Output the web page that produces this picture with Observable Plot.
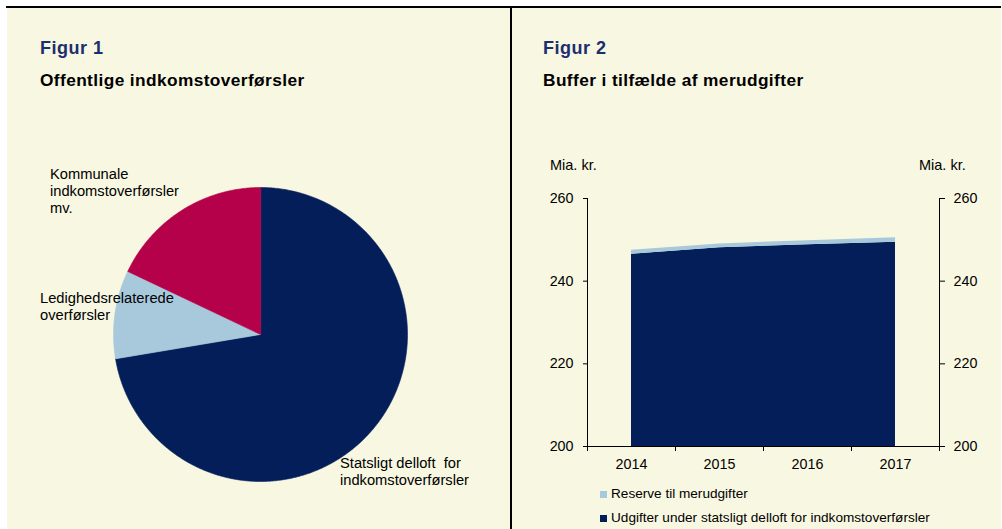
<!DOCTYPE html>
<html>
<head>
<meta charset="utf-8">
<script src="https://cdn.jsdelivr.net/npm/d3@7"></script>
<script src="https://cdn.jsdelivr.net/npm/@observablehq/plot@0.6"></script>
<style>
  html, body { margin: 0; padding: 0; background: #ffffff; }
  #page { position: relative; width: 1002px; height: 529px; overflow: hidden; font-family: "Liberation Sans", Arial, sans-serif; color: #000; }
  .abs { position: absolute; }
  .bg { left: 7px; top: 7px; width: 994px; height: 522px; background: #f8f7e1; }
  .topline { left: 6px; top: 6px; width: 995px; height: 2px; background: #000; }
  .divider { left: 510px; top: 7px; width: 2px; height: 522px; background: #000; }
  .fig { font-weight: bold; font-size: 18px; color: #1b2f6e; letter-spacing: 0.5px; white-space: nowrap; line-height: 20px; }
  .sub { font-weight: bold; font-size: 17.3px; letter-spacing: 0.4px; white-space: nowrap; line-height: 20px; }
  .plab { font-size: 14.7px; line-height: 17px; white-space: pre; }
  .unit { font-size: 14.5px; line-height: 17px; white-space: nowrap; }
  .leg { font-size: 13.6px; line-height: 16px; white-space: nowrap; }
  .sw { display: inline-block; width: 7px; height: 7px; margin-right: 4px; }
  svg { background: transparent !important; }
</style>
</head>
<body>
<div id="page">
  <div class="abs bg"></div>
  <div class="abs topline"></div>
  <div class="abs divider"></div>
  <div class="abs fig" style="left:40px; top:38px;">Figur 1</div>
  <div class="abs sub" style="left:40px; top:70px;">Offentlige indkomstoverførsler</div>
  <div class="abs fig" style="left:543px; top:38px;">Figur 2</div>
  <div class="abs sub" style="left:543px; top:70px;">Buffer i tilfælde af merudgifter</div>
  <div id="pie" class="abs" style="left:0px; top:0px;"></div>
  <div id="area" class="abs" style="left:530px; top:180px;"></div>
  <div id="pielabels"></div>
  <div class="abs unit" style="left:550px; top:157px;">Mia. kr.</div>
  <div class="abs unit" style="left:919px; top:157px;">Mia. kr.</div>
  <div id="legend"></div>
</div>
<script>
// ---- Figure 1 data ----
const pieNames = ["Statsligt delloft for indkomstoverførsler", "Ledighedsrelaterede overførsler", "Kommunale indkomstoverførsler mv."];
const pieValues = [246, 33, 61];
const pieColors = ["#041e5a", "#a8c9dc", "#b5004a"];
const pieLabelText = ["Statsligt delloft  for\nindkomstoverførsler", "Ledighedsrelaterede\noverførsler", "Kommunale\nindkomstoverførsler\nmv."];

// ---- Figure 2 data ----
const years = [2014, 2015, 2016, 2017];
const seriesNames = ["Udgifter under statsligt delloft for indkomstoverførsler", "Reserve til merudgifter"];
const udgifter = [246.5, 248.1, 248.8, 249.4];
const reserve = [1.0, 0.9, 1.0, 1.1];
const seriesColors = ["#041e5a", "#a8c9dc"];
const yTicks = [200, 220, 240, 260];

// ---- Pie via Plot ----
const pieData = pieNames.map((name, i) => ({name, value: pieValues[i]}));
const arcs = d3.pie().sort(null).value(d => d.value)(pieData);
const polyPts = [];
arcs.forEach(a => {
  polyPts.push({name: a.data.name, x: 0, y: 0});
  const n = Math.max(8, Math.ceil((a.endAngle - a.startAngle) / 0.01));
  for (let k = 0; k <= n; k++) {
    const t = a.startAngle + (a.endAngle - a.startAngle) * k / n;
    polyPts.push({name: a.data.name, x: Math.sin(t), y: Math.cos(t)});
  }
});
const pie = Plot.plot({
  width: 510, height: 529,
  marginLeft: 113, marginRight: 103, marginTop: 187, marginBottom: 48,
  x: {domain: [-1, 1], axis: null},
  y: {domain: [-1, 1], axis: null},
  color: {domain: pieNames, range: pieColors},
  style: {background: "transparent"},
  marks: [
    Plot.line(polyPts, {x: "x", y: "y", z: "name", fill: "name", stroke: "name", strokeWidth: 0.6, curve: "linear-closed"})
  ]
});
document.getElementById("pie").appendChild(pie);

// pie labels (annotations)
const pieLabelPos = [{left: 340, top: 455}, {left: 40, top: 290}, {left: 50, top: 166}];
const pl = document.getElementById("pielabels");
pieLabelText.forEach((t, i) => {
  const d = document.createElement("div");
  d.className = "abs plab";
  d.style.left = pieLabelPos[i].left + "px";
  d.style.top = pieLabelPos[i].top + "px";
  d.textContent = t;
  pl.appendChild(d);
});

// ---- Area via Plot ----
const long = [];
years.forEach((yr, i) => {
  long.push({year: yr, series: seriesNames[0], value: udgifter[i]});
  long.push({year: yr, series: seriesNames[1], value: reserve[i]});
});
const bounds = years.map(y => y - 0.5).concat([years[years.length - 1] + 0.5]);
const xDom = [bounds[0], bounds[bounds.length - 1]];
const area = Plot.plot({
  width: 472, height: 300,
  marginLeft: 57, marginRight: 63, marginTop: 18, marginBottom: 34,
  x: {domain: xDom, axis: null},
  y: {domain: [yTicks[0], yTicks[yTicks.length - 1]], axis: null},
  color: {domain: seriesNames, range: seriesColors},
  style: {background: "transparent", fontFamily: "Liberation Sans, Arial, sans-serif", fontSize: "14.3px", color: "#000"},
  marks: [
    Plot.areaY(long, {x: "year", y: "value", fill: "series", order: seriesNames, clip: true}),
    Plot.ruleX(xDom, {stroke: "#000", strokeWidth: 1}),
    Plot.ruleY([yTicks[0]], {stroke: "#000", strokeWidth: 1}),
    Plot.axisX(bounds, {tickSize: 5, tickFormat: () => "", label: null, stroke: "#000"}),
    Plot.axisX(years, {tickSize: 0, tickPadding: 12, tickFormat: d => String(d), label: null, fontSize: 14.3, fill: "#000"}),
    Plot.axisY(yTicks, {anchor: "left", tickSize: 4, tickPadding: 10, label: null, fontSize: 14.3, fill: "#000", stroke: "#000"}),
    Plot.axisY(yTicks, {anchor: "right", tickSize: 5, tickPadding: 9, label: null, fontSize: 14.3, fill: "#000", stroke: "#000"})
  ]
});
document.getElementById("area").appendChild(area);

// legend
const legendOrder = [1, 0];
const lg = document.getElementById("legend");
legendOrder.forEach((si, k) => {
  const d = document.createElement("div");
  d.className = "abs leg";
  d.style.left = "600px";
  d.style.top = (486 + k * 24) + "px";
  d.innerHTML = `<span class="sw" style="background:${seriesColors[si]}"></span>${seriesNames[si]}`;
  lg.appendChild(d);
});
</script>
</body>
</html>
